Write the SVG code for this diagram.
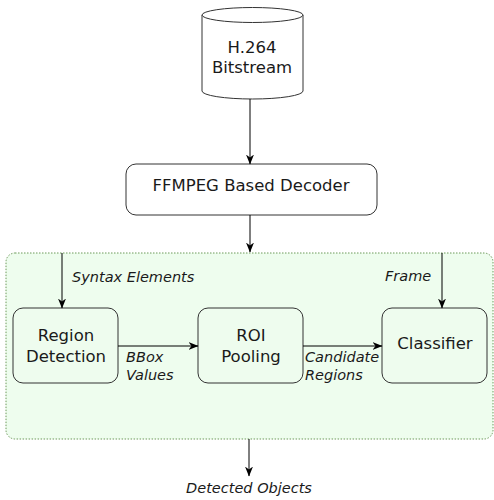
<svg xmlns="http://www.w3.org/2000/svg" width="494" height="500" viewBox="0 0 494 500">
<defs>
<marker id="arr" viewBox="0 0 10 8" refX="9.5" refY="4" markerWidth="10" markerHeight="8" markerUnits="userSpaceOnUse" orient="auto">
<path d="M0,0 L10,4 L0,8 L3,4 z" fill="#000"/>
</marker>
</defs>
<style>
.box{fill:#fff;stroke:#333;stroke-width:1}
.gbox{fill:#eefcee;stroke:#333;stroke-width:1}
.t{font-family:"DejaVu Sans",sans-serif;font-size:16.5px;fill:#1a1a1a;text-anchor:middle}
.l{font-family:"DejaVu Sans",sans-serif;font-size:14.5px;font-style:italic;fill:#1a1a1a}
.c{fill:none;stroke:#000;stroke-width:1;marker-end:url(#arr)}
</style>
<g id="container">
<rect x="6" y="253" width="487" height="186" rx="9" fill="#eefdee" stroke="#6c9a5a" stroke-width="1" stroke-dasharray="1.5,1.5"/>
</g>
<g id="bitstream">
<path d="M202,15 L202,91 A50.5,8 0 0 0 303,91 L303,15" class="box"/>
<ellipse cx="252.5" cy="15" rx="50.5" ry="7.5" class="box"/>
<text class="t" x="252" y="53">H.264</text>
<text class="t" x="252" y="73">Bitstream</text>
</g>
<g id="decoder">
<rect x="126" y="164" width="251" height="51" rx="10" class="box"/>
<text class="t" x="251" y="191">FFMPEG Based Decoder</text>
</g>
<g id="region">
<rect x="13" y="308" width="105" height="75" rx="10" class="gbox"/>
<text class="t" x="66" y="341">Region</text>
<text class="t" x="66" y="362">Detection</text>
</g>
<g id="roi">
<rect x="198" y="308" width="105" height="75" rx="10" class="gbox"/>
<text class="t" x="251" y="341">ROI</text>
<text class="t" x="251" y="362">Pooling</text>
</g>
<g id="classifier">
<rect x="382" y="308" width="105" height="75" rx="10" class="gbox"/>
<text class="t" x="435" y="349">Classifier</text>
</g>
<g id="connectors">
<path class="c" d="M250,99 L250,164"/>
<path class="c" d="M250,215 L250,252"/>
<path class="c" d="M62,253 L62,308"/>
<path class="c" d="M442,253 L442,308"/>
<path class="c" d="M118,346 L198,346"/>
<path class="c" d="M303,346 L382,346"/>
<path class="c" d="M249,439 L249,476"/>
</g>
<g id="labels">
<text class="l" x="72" y="282">Syntax Elements</text>
<text class="l" x="385" y="281">Frame</text>
<text class="l" x="126" y="362">BBox</text>
<text class="l" x="126" y="380">Values</text>
<text class="l" x="305" y="362">Candidate</text>
<text class="l" x="305" y="380">Regions</text>
<text class="l" x="249" y="493" text-anchor="middle">Detected Objects</text>
</g>
</svg>
